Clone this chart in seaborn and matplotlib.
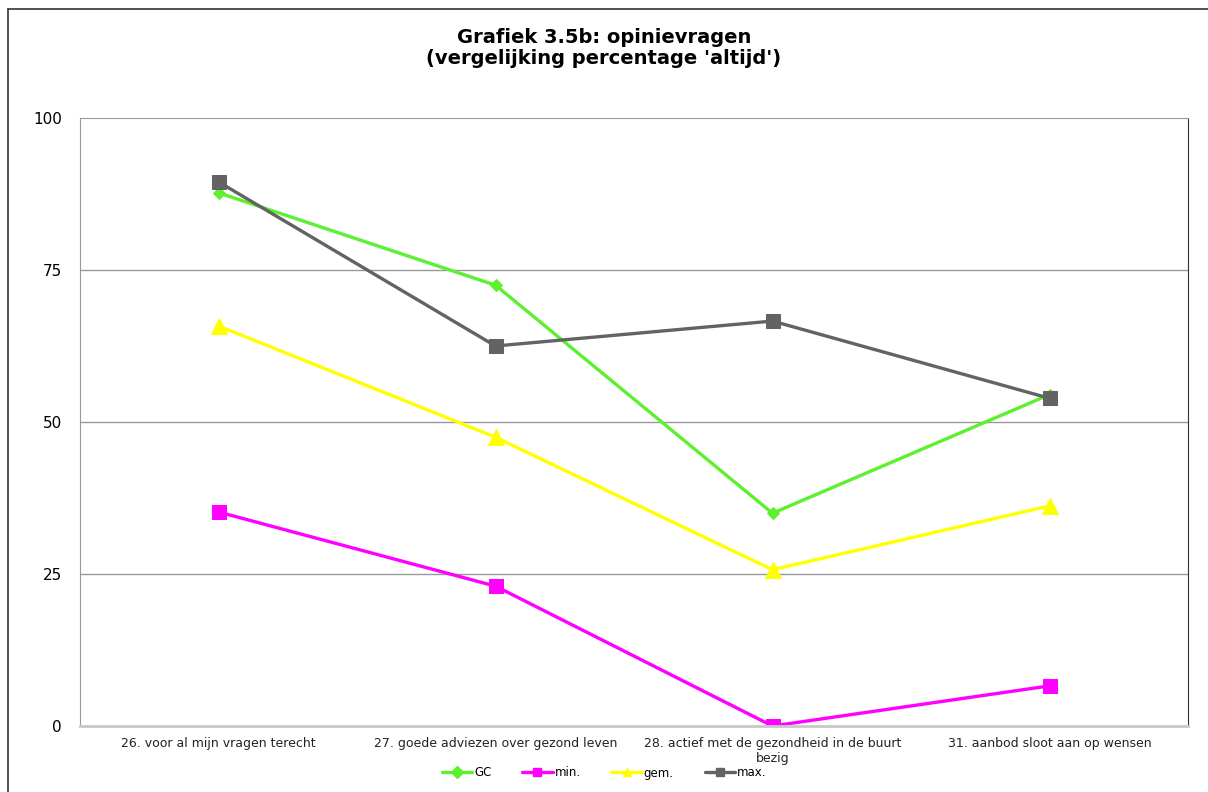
import matplotlib
matplotlib.use("Agg")
import matplotlib.pyplot as plt
from matplotlib.lines import Line2D
import seaborn as sns
import pandas as pd

# data
categories = [
    "26. voor al mijn vragen terecht",
    "27. goede adviezen over gezond leven",
    "28. actief met de gezondheid in de buurt\nbezig",
    "31. aanbod sloot aan op wensen",
]
series_names = ["GC", "min.", "gem.", "max."]
gc_vals = [87.7, 72.5, 35.0, 54.5]
min_vals = [35.2, 23.0, 0.0, 6.6]
gem_vals = [65.8, 47.5, 25.7, 36.2]
max_vals = [89.5, 62.5, 66.6, 53.9]
y_ticks = [0, 25, 50, 75, 100]

colors = {"GC": "#5CF02E", "min.": "#FF00FF", "gem.": "#FFFF00", "max.": "#636363"}
markers = {"GC": "D", "min.": "s", "gem.": "^", "max.": "s"}
msizes = {"GC": 6, "min.": 10, "gem.": 11, "max.": 10}

rows = []
for name, vals in zip(series_names, [gc_vals, min_vals, gem_vals, max_vals]):
    for i, v in enumerate(vals):
        rows.append({"pos": i, "value": v, "series": name})
df = pd.DataFrame(rows)

sns.set_style("white")
plt.rcParams["font.family"] = ["DejaVu Sans"]
plt.rcParams["text.color"] = "black"
plt.rcParams["xtick.color"] = "black"
plt.rcParams["ytick.color"] = "black"

fig = plt.figure(figsize=(12.08, 7.92), dpi=100)
ax = fig.add_axes([80 / 1208, 1 - 726 / 792, 1108 / 1208, 608 / 792])

for name in series_names:
    sub = df[df["series"] == name]
    sns.lineplot(
        data=sub, x="pos", y="value", ax=ax,
        color=colors[name], marker=markers[name], markersize=msizes[name],
        markeredgecolor=colors[name], linewidth=2.4, label=name, legend=False,
    )

ax.set_xlim(-0.5, len(categories) - 0.5)
ax.set_ylim(0, 100)
ax.set_yticks(y_ticks)
ax.set_yticklabels([str(t) for t in y_ticks], fontsize=11)
ax.set_xticks(range(len(categories)))
ax.set_xticklabels(categories, fontsize=9, color="#222222")
ax.set_xticks([i - 0.5 for i in range(len(categories) + 1)], minor=True)
ax.tick_params(axis="x", which="major", length=0, pad=8)
ax.tick_params(axis="x", which="minor", length=5, color="#aaaaaa", width=1)
ax.tick_params(axis="y", length=7, color="#aaaaaa", labelcolor="black", width=1, pad=6)
ax.set_xlabel("")
ax.set_ylabel("")
ax.grid(False)
for t in y_ticks[1:-1]:
    ax.axhline(t, color="#999999", linewidth=1, zorder=0)

ax.spines["left"].set_color("#999999")
ax.spines["top"].set_color("#999999")
ax.spines["bottom"].set_color("#c8c8c8")
ax.spines["bottom"].set_linewidth(2)
ax.spines["right"].set_color("#333333")
for s in ax.spines.values():
    s.set_visible(True)

fig.suptitle("Grafiek 3.5b: opinievragen\n(vergelijking percentage 'altijd')",
             fontsize=14, fontweight="bold", y=0.965, linespacing=1.15, color="black")

handles = [Line2D([0], [0], color=colors[n], marker=markers[n], markersize=6,
                  linewidth=2.4) for n in series_names]
fig.legend(handles, series_names, loc="center", bbox_to_anchor=(0.5, 1 - 773 / 792),
           ncol=4, frameon=False, fontsize=8.5, handlelength=2.6, columnspacing=2.6,
           handletextpad=0.15)

# outer chart frame
fig.add_artist(Line2D([8 / 1208, 8 / 1208], [0, 1 - 9 / 792], color="#333333", linewidth=1.2,
                      transform=fig.transFigure))
fig.add_artist(Line2D([8 / 1208, 1], [1 - 9 / 792, 1 - 9 / 792], color="#333333", linewidth=1.2,
                      transform=fig.transFigure))

fig.savefig("out.png", dpi=100)
